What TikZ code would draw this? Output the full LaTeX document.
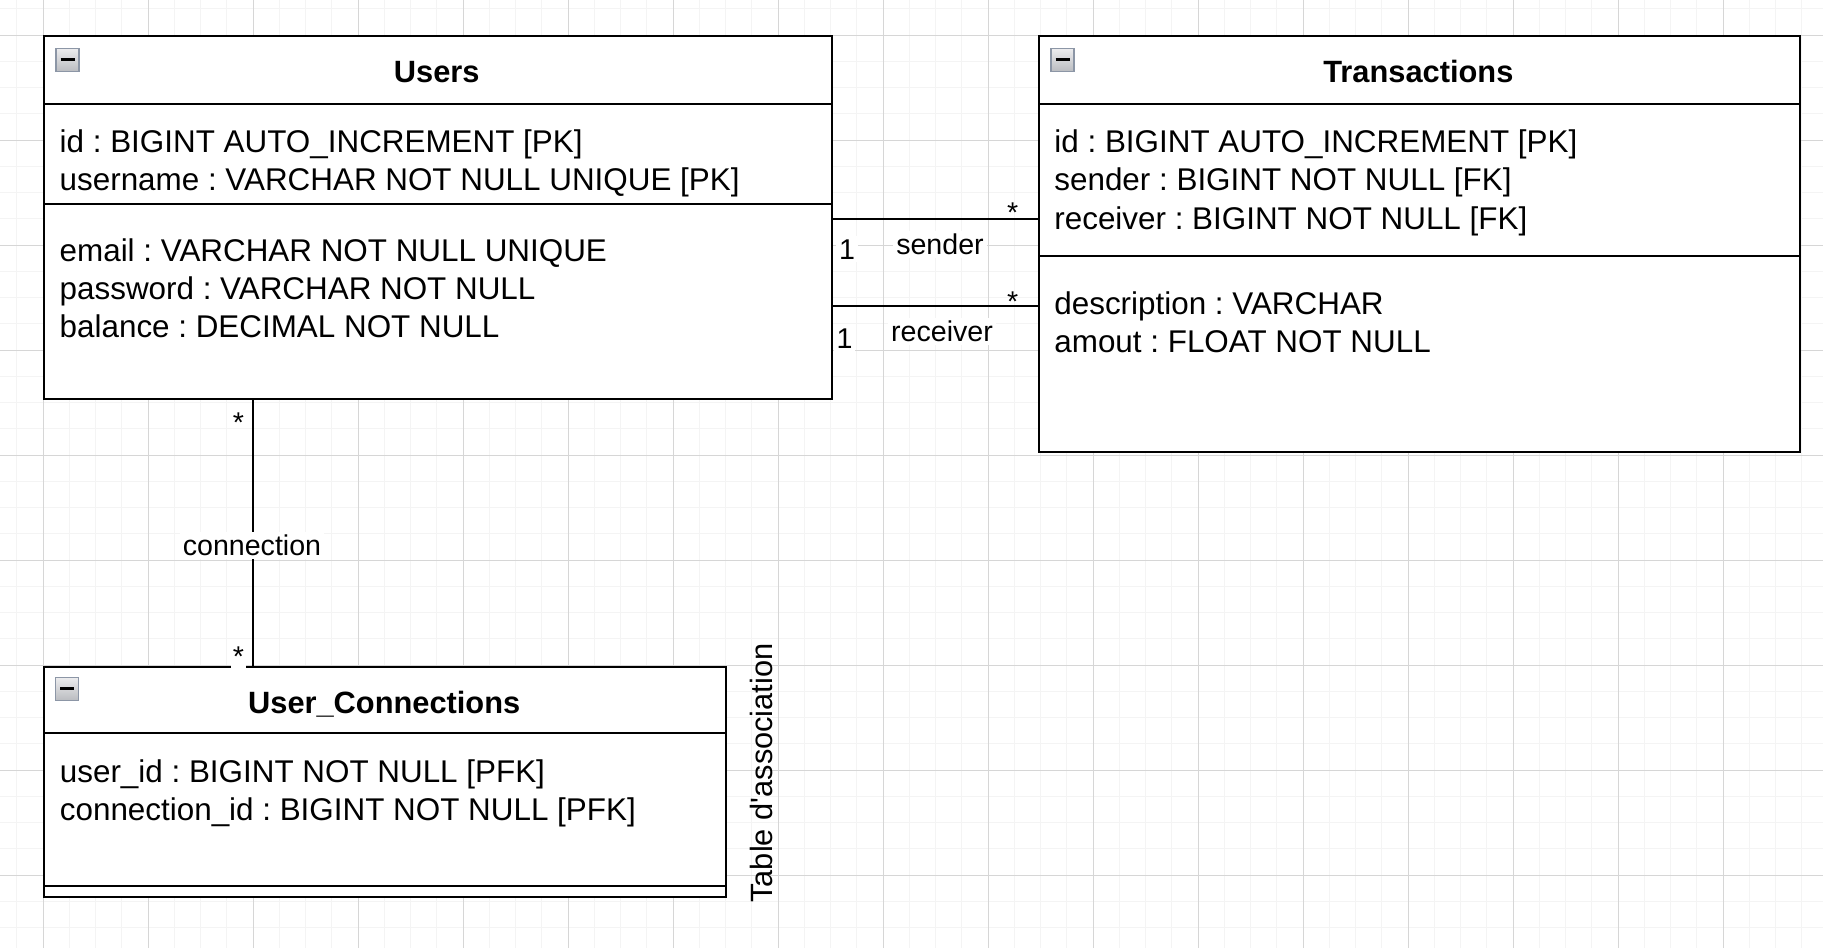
\documentclass[tikz,border=0pt]{standalone}
\usepackage{fontspec}
\setmainfont{Liberation Sans}
\frenchspacing
\definecolor{gridminor}{RGB}{244,244,244}
\definecolor{gridmajor}{RGB}{214,214,214}
\definecolor{iconborder}{RGB}{140,150,166}
\definecolor{icontop}{RGB}{236,236,238}
\definecolor{iconbot}{RGB}{186,188,192}
\begin{document}
\begin{tikzpicture}[x=0.5pt,y=-0.5pt,
  minorgrid/.style={draw=gridminor,line width=0.5pt},
  majorgrid/.style={draw=gridmajor,line width=0.5pt},
  tbl/.style={draw=black,line width=1pt,fill=white,inner sep=0pt,anchor=north west},
  divider/.style={draw=black,line width=1pt},
  attr/.style={anchor=base west,inner sep=0pt,font=\fontsize{15.7}{19}\selectfont},
  ttl/.style={anchor=base,inner sep=0pt,font=\fontsize{15.4}{19}\selectfont\bfseries},
  lbl/.style={inner sep=1.5pt,fill=white,font=\fontsize{14.3}{17}\selectfont},
  mult/.style={inner sep=0pt,anchor=base,font=\fontsize{14.3}{17}\selectfont},
  conn/.style={draw=black,line width=1pt},
  minusicon/.pic={
    \draw[draw=iconborder,line width=0.6pt,top color=icontop,bottom color=iconbot] (0,0) rectangle (23,23);
    \draw[black,line width=1.2pt] (4.5,11) -- (18.5,11);
  }
]
\useasboundingbox (0,0) rectangle (1823,948);
\fill[white] (0,0) rectangle (1823,948);
% grid
\foreach \i in {0,...,69} {
  \pgfmathsetmacro\gx{16.75+26.25*\i}
  \draw[minorgrid] (\gx,0) -- (\gx,948);
}
\foreach \i in {0,...,36} {
  \pgfmathsetmacro\gy{8.75+26.25*\i}
  \draw[minorgrid] (0,\gy) -- (1823,\gy);
}
\foreach \i in {0,...,17} {
  \pgfmathsetmacro\gx{43+105*\i}
  \draw[majorgrid] (\gx,0) -- (\gx,948);
}
\foreach \i in {0,...,9} {
  \pgfmathsetmacro\gy{35+105*\i}
  \draw[majorgrid] (0,\gy) -- (1823,\gy);
}

% Users table
\node[tbl,minimum width=393.75pt,minimum height=181.25pt] (users) at (43,35) {};
\draw[divider] (43,104) -- (830.5,104);
\draw[divider] (43,203.5) -- (830.5,203.5);
\pic at (56,48.5) {minusicon};
\node[ttl] (users-title) at (436.75,82.7) {Users};
\node[attr] (u1) at (59.3,152.7) {id : BIGINT AUTO\_INCREMENT [PK]};
\node[attr] (u2) at (59.3,190.5) {username : VARCHAR NOT NULL UNIQUE [PK]};
\node[attr] (u3) at (59.3,261.8) {email : VARCHAR NOT NULL UNIQUE};
\node[attr] (u4) at (59.3,299.4) {password : VARCHAR NOT NULL};
\node[attr] (u5) at (59.3,337) {balance : DECIMAL NOT NULL};

% Transactions table
\node[tbl,minimum width=380.35pt,minimum height=207.85pt] (trans) at (1038,35) {};
\draw[divider] (1038,104) -- (1798.7,104);
\draw[divider] (1038,256) -- (1798.7,256);
\pic at (1051,48.5) {minusicon};
\node[ttl] (trans-title) at (1418.35,82.7) {Transactions};
\node[attr] (t1) at (1054,152.7) {id : BIGINT AUTO\_INCREMENT [PK]};
\node[attr] (t2) at (1054,190.8) {sender : BIGINT NOT NULL [FK]};
\node[attr] (t3) at (1054,229.2) {receiver : BIGINT NOT NULL [FK]};
\node[attr] (t4) at (1054,314.3) {description : VARCHAR};
\node[attr] (t5) at (1054,352.6) {amout : FLOAT NOT NULL};

% User_Connections table
\node[tbl,minimum width=341.2pt,minimum height=115.4pt] (uc) at (43,665.5) {};
\draw[divider] (43,733.3) -- (725.4,733.3);
\draw[divider] (43,886) -- (725.4,886);
\pic at (55.5,677.5) {minusicon};
\node[ttl] (uc-title) at (384.2,713.5) {User\_Connections};
\node[attr] (c1) at (59.5,782.3) {user\_id : BIGINT NOT NULL [PFK]};
\node[attr] (c2) at (59.5,820.3) {connection\_id : BIGINT NOT NULL [PFK]};
\node[rotate=90,inner sep=0pt,font=\fontsize{15.4}{19}\selectfont] (assoc) at (761,773) {Table d\textquotesingle association};

% connectors
\draw[conn] ([yshift=-92.15pt]users.north east) -- ([yshift=-92.15pt]trans.north west);
\draw[conn] ([yshift=-135.5pt]users.north east) -- ([yshift=-135.5pt]trans.north west);
\draw[conn] ([xshift=104.75pt]users.south west) -- ([xshift=104.75pt]uc.north west);

% connector labels
\node[mult] (s-star) at (1012.7,222) {*};
\node[lbl] (s-one) at (847,249.3) {1};
\node[lbl] (s-name) at (940,244.3) {sender};
\node[mult] (r-star) at (1012.7,311.5) {*};
\node[lbl] (r-one) at (844.5,338.3) {1};
\node[lbl] (r-name) at (942,331) {receiver};
\node[mult] (c-star-top) at (238.5,432.4) {*};
\node[lbl] (c-name) at (252,545.5) {connection};
\node[mult,fill=white,inner sep=1pt] (c-star-bot) at (238.5,666) {*};
\end{tikzpicture}
\end{document}
